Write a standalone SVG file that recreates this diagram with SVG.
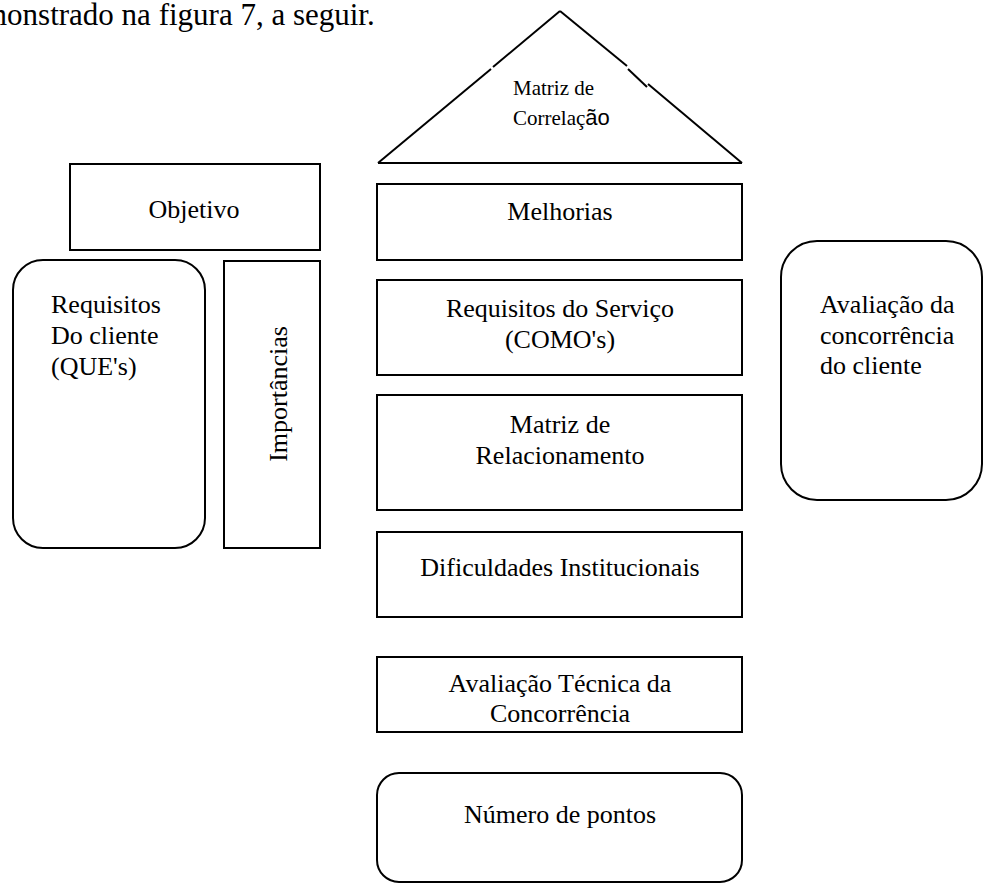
<svg xmlns="http://www.w3.org/2000/svg" width="984" height="884" viewBox="0 0 984 884" font-family="'Liberation Serif', 'Times New Roman', serif">
  <style>
    .box { fill: #ffffff; stroke: #000000; stroke-width: 2; }
    .edge { fill: none; stroke: #000000; stroke-width: 2; stroke-linecap: butt; }
    .lbl { font-family: "Liberation Serif", "Times New Roman", serif; font-size: 26px; fill: #000000; }
    .mid { text-anchor: middle; }
    .small { font-family: "Liberation Serif", "Times New Roman", serif; font-size: 21px; fill: #000000; }
    .head { font-family: "Liberation Serif", "Times New Roman", serif; font-size: 31px; fill: #000000; }
  </style>
  <rect width="984" height="884" fill="#ffffff"/>

  <!-- running text line above the figure, starting past the left edge -->
  <text class="head" x="-17" y="25">monstrado na figura 7, a seguir.</text>

  <!-- roof: correlation matrix -->
  <g id="roof">
    <line class="edge" x1="378" y1="163" x2="742" y2="163"/>
    <line class="edge" x1="378" y1="163" x2="491" y2="69"/>
    <line class="edge" x1="493" y1="67" x2="560" y2="11"/>
    <line class="edge" x1="560" y1="11" x2="627" y2="66"/>
    <line class="edge" x1="628" y1="69" x2="647" y2="87"/>
    <line class="edge" x1="648" y1="84" x2="742" y2="163"/>
    <text class="small" x="513" y="95">Matriz de</text>
    <text class="small" x="513" y="125">Correlaç<tspan font-family="'Liberation Sans', Arial, sans-serif" font-size="22">ão</tspan></text>
  </g>

  <g id="objetivo">
    <rect class="box" x="70" y="164" width="250" height="86"/>
    <text class="lbl mid" x="194" y="218">Objetivo</text>
  </g>

  <g id="requisitos-cliente">
    <rect class="box" x="13" y="260" width="192" height="288" rx="30" ry="30"/>
    <text class="lbl" x="51" y="313">Requisitos</text>
    <text class="lbl" x="51" y="344">Do cliente</text>
    <text class="lbl" x="51" y="375">(QUE's)</text>
  </g>

  <g id="importancias">
    <rect class="box" x="224" y="261" width="96" height="287"/>
    <text class="lbl mid" transform="translate(287 394) rotate(-90)">Importâncias</text>
  </g>

  <g id="melhorias">
    <rect class="box" x="377" y="184" width="365" height="76"/>
    <text class="lbl mid" x="560" y="220">Melhorias</text>
  </g>

  <g id="requisitos-servico">
    <rect class="box" x="377" y="280" width="365" height="95"/>
    <text class="lbl mid" x="560" y="317">Requisitos do Serviço</text>
    <text class="lbl mid" x="560" y="348">(COMO's)</text>
  </g>

  <g id="matriz-relacionamento">
    <rect class="box" x="377" y="395" width="365" height="115"/>
    <text class="lbl mid" x="560" y="433">Matriz de</text>
    <text class="lbl mid" x="560" y="464">Relacionamento</text>
  </g>

  <g id="dificuldades">
    <rect class="box" x="377" y="532" width="365" height="85"/>
    <text class="lbl mid" x="560" y="576">Dificuldades Institucionais</text>
  </g>

  <g id="avaliacao-tecnica">
    <rect class="box" x="377" y="657" width="365" height="75"/>
    <text class="lbl mid" x="560" y="692">Avaliação Técnica da</text>
    <text class="lbl mid" x="560" y="722">Concorrência</text>
  </g>

  <g id="numero-pontos">
    <rect class="box" x="377" y="773" width="365" height="109" rx="22" ry="22"/>
    <text class="lbl mid" x="560" y="823">Número de pontos</text>
  </g>

  <g id="avaliacao-cliente">
    <rect class="box" x="781" y="241" width="201" height="259" rx="36" ry="36"/>
    <text class="lbl" x="820" y="313">Avaliação da</text>
    <text class="lbl" x="820" y="344">concorrência</text>
    <text class="lbl" x="820" y="374">do cliente</text>
  </g>

  <g id="connectors"></g>
</svg>
